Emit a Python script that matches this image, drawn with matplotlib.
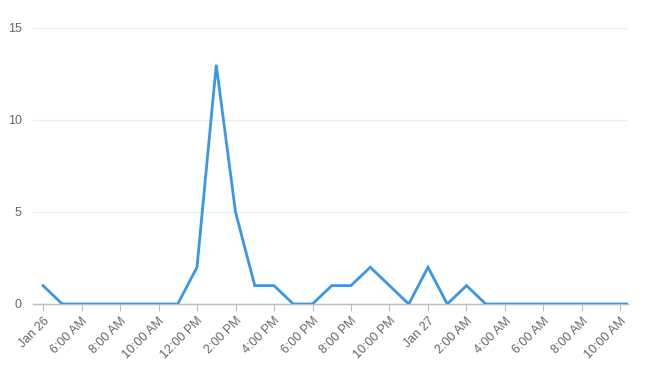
import matplotlib
matplotlib.use("Agg")
import matplotlib.pyplot as plt

hours = list(range(32))
values = [1, 0, 0, 0, 0, 0, 0, 0, 2, 13, 5, 1, 1, 0, 0, 1, 1, 2, 1, 0, 2, 0, 1, 0,
          0, 0, 0, 0, 0, 0, 0, 0]
tick_pos = list(range(0, 31, 2))
tick_labels = ["Jan 26", "6:00 AM", "8:00 AM", "10:00 AM", "12:00 PM", "2:00 PM",
               "4:00 PM", "6:00 PM", "8:00 PM", "10:00 PM", "Jan 27", "2:00 AM",
               "4:00 AM", "6:00 AM", "8:00 AM", "10:00 AM"]
y_ticks = [0, 5, 10, 15]

plt.rcParams['font.family'] = ['Liberation Sans', 'DejaVu Sans']
fig = plt.figure(figsize=(6.46, 3.71), dpi=100)
W, H = 646, 371
ax = fig.add_axes([33 / W, 67 / H, (628 - 33) / W, (304 - 28) / H])

ax.plot(hours, values, color='#3b97e6', linewidth=2.0, solid_joinstyle='miter', clip_on=True, zorder=3)
ax.set_xlim(-0.52, 30.39)
ax.set_ylim(0, 15)

ax.set_yticks(y_ticks)
ax.set_yticklabels([str(v) for v in y_ticks], color='#666666', fontsize=9)
ax.set_xticks(tick_pos)
ax.set_xticklabels(tick_labels, rotation=45, ha='right', rotation_mode='anchor',
                   color='#666666', fontsize=9)

for s in ['top', 'right', 'left']:
    ax.spines[s].set_visible(False)
ax.spines['bottom'].set_color('#bbbbbb')
ax.spines['bottom'].set_linewidth(1)
ax.tick_params(axis='y', length=0, pad=8)
ax.tick_params(axis='x', length=5, color='#bbbbbb', pad=3)
ax.grid(axis='y', color='#eeeeee', linewidth=1)
ax.set_axisbelow(True)

fig.savefig('out.png', dpi=100)
